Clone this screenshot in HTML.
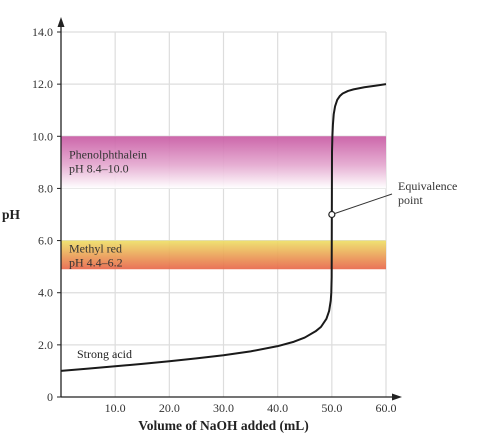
<!DOCTYPE html>
<html><head><meta charset="utf-8"><style>
body{margin:0;background:#fff;}
svg{display:block;font-family:"Liberation Serif",serif;}
</style></head><body>
<svg id="chart" width="490" height="438">
<defs>
<linearGradient id="gPh" x1="0" y1="0" x2="0" y2="1"><stop offset="0" stop-color="#c85aa3"/><stop offset="0.55" stop-color="#e4a8cf"/><stop offset="1" stop-color="#ffffff"/></linearGradient>
<linearGradient id="gMr" x1="0" y1="0" x2="0" y2="1"><stop offset="0" stop-color="#eee066"/><stop offset="1" stop-color="#e8664a"/></linearGradient>
</defs>
<g id="grid"></g><g id="bands"></g><g id="axes"></g><g id="curve"></g>
</svg>
<script>
const xTicks=[10,20,30,40,50,60];
const yTicks=[0,2,4,6,8,10,12,14];
const volumes=[0,5,10,15,20,25,30,35,40,43,45,47,48,49,49.5,49.8,49.9,49.97,50,50.03,50.1,50.2,50.35,50.6,51,51.5,52,53,54,56,58,60];
const phValues=[1.0,1.09,1.18,1.27,1.37,1.48,1.60,1.75,1.95,2.12,2.28,2.52,2.69,3.0,3.3,3.7,4.0,4.6,7.0,9.4,10.0,10.45,10.85,11.15,11.4,11.55,11.64,11.74,11.8,11.88,11.94,12.0];
const bandRanges=[[8.0,10.0],[4.9,6.0]];
const bandLabels=[["Phenolphthalein","pH 8.4–10.0"],["Methyl red","pH 4.4–6.2"]];
const labelOffsets=[22,12];
const X0=61,X1=386,Y0=397,Y1=32;
const sx=v=>X0+(X1-X0)*v/60, sy=p=>Y0-(Y0-Y1)*p/14;
const NS="http://www.w3.org/2000/svg";
function mk(t,a,parent,txt){const e=document.createElementNS(NS,t);for(const k in a)e.setAttribute(k,a[k]);if(txt!==undefined)e.textContent=txt;document.getElementById(parent).appendChild(e);return e;}
yTicks.forEach(p=>{if(p===0)return;const l=mk('line',{x1:X0,x2:X1,y1:sy(p),y2:sy(p),stroke:'#ddd','stroke-width':1.2},'grid');

});
xTicks.forEach(v=>{const l=mk('line',{x1:sx(v),x2:sx(v),y1:Y1,y2:Y0,stroke:'#ddd','stroke-width':1.2},'grid');

});
bandRanges.forEach((r,i)=>{const b=mk('rect',{x:X0,y:sy(r[1]),width:X1-X0,height:sy(r[0])-sy(r[1]),fill:i===0?'url(#gPh)':'url(#gMr)',opacity:0.92},'bands');


bandLabels[i].forEach((s,j)=>{const t=mk('text',{x:69,y:sy(r[1])+labelOffsets[i]+j*14,'font-size':12,fill:'#333'},'bands',s);

});});
let a=mk('line',{x1:X0,x2:X0,y1:Y0,y2:22,stroke:'#222','stroke-width':1.3},'axes');
a=mk('path',{d:`M${X0-3.5},27 L${X0},17 L${X0+3.5},27Z`,fill:'#222'},'axes');
a=mk('line',{x1:X0,x2:395,y1:Y0,y2:Y0,stroke:'#222','stroke-width':1.3},'axes');
a=mk('path',{d:`M392,${Y0-3.5} L402,${Y0} L392,${Y0+3.5}Z`,fill:'#222'},'axes');
yTicks.forEach(p=>{mk('line',{x1:X0-4,x2:X0,y1:sy(p),y2:sy(p),stroke:'#222'},'axes');
const t=mk('text',{x:X0-8,y:sy(p)+4,'font-size':12,fill:'#333','text-anchor':'end'},'axes',p===0?'0':p.toFixed(1));

});
xTicks.forEach(v=>{const t=mk('text',{x:sx(v),y:Y0+15,'font-size':12,fill:'#333','text-anchor':'middle'},'axes',v.toFixed(1));

});
a=mk('text',{x:sx(30),y:430,'font-size':13.5,'font-weight':'bold',fill:'#222','text-anchor':'middle'},'axes','Volume of NaOH added (mL)');
a=mk('text',{x:2,y:219,'font-size':13.5,'font-weight':'bold',fill:'#222'},'axes','pH');
const d=volumes.map((v,i)=>(i?'L':'M')+sx(v).toFixed(2)+','+sy(phValues[i]).toFixed(2)).join(' ');
a=mk('path',{d:d,fill:'none',stroke:'#1a1a1a','stroke-width':2,'stroke-linejoin':'round'},'curve');
a=mk('text',{x:77,y:358,'font-size':12,fill:'#222'},'curve','Strong acid');
const ex=sx(50),ey=sy(7);
a=mk('line',{x1:ex,y1:ey,x2:392,y2:194,stroke:'#333','stroke-width':1},'curve');
a=mk('circle',{cx:ex,cy:ey,r:3,fill:'#fff',stroke:'#222','stroke-width':1.2},'curve');
a=mk('text',{x:398,y:190,'font-size':12,fill:'#333'},'curve','Equivalence');
a=mk('text',{x:398,y:204,'font-size':12,fill:'#333'},'curve','point');
</script>
</body></html>
